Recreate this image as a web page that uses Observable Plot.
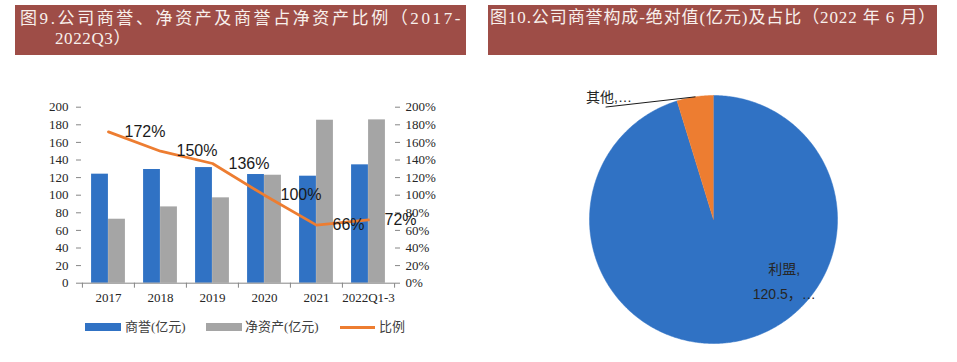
<!DOCTYPE html>
<html><head><meta charset="utf-8">
<script src="https://cdn.jsdelivr.net/npm/d3@7"></script>
<script src="https://cdn.jsdelivr.net/npm/@observablehq/plot@0.6"></script>
<style>
body{margin:0;width:957px;height:362px;position:relative;background:#fff;overflow:hidden}
.hdr{position:absolute;background:#9E4D47;color:#f8f0ec;font-size:17px;font-family:"Liberation Serif","Noto Sans CJK SC",serif;line-height:20px;white-space:nowrap;box-sizing:border-box}
.abs{position:absolute}
.lg{position:absolute;font:13px "Liberation Serif","Noto Sans CJK SC",serif;color:#404040;line-height:16px;white-space:nowrap}
.sw{position:absolute}
</style></head><body>
<div class="hdr" style="left:15px;top:5px;width:451px;height:50px;padding:4px 0 0 5px;letter-spacing:2.6px">图9.公司商誉、净资产及商誉占净资产比例（2017-<br><span style="padding-left:35px;letter-spacing:0.6px">2022Q3）</span></div>
<div class="hdr" style="left:488px;top:5px;width:449px;height:50px;padding:3px 0 0 2px;letter-spacing:0.9px">图10.公司商誉构成-绝对值(亿元)及占比（2022 年 6 月）</div>
<div id="left" class="abs" style="left:0;top:80px"></div>
<div id="pie" class="abs" style="left:568.5px;top:74.5px"></div>
<div id="legend"></div>
<script>
// ---- data ----
const years = ["2017", "2018", "2019", "2020", "2021", "2022Q1-3"];
const goodwill = [123.9, 129.2, 131.4, 123.5, 121.6, 134.5];
const netAssets = [72.7, 86.7, 97.0, 122.7, 185.2, 185.6];
const ratio = [172, 150, 136, 100, 66, 72];
const yTicks = [0, 20, 40, 60, 80, 100, 120, 140, 160, 180, 200];
const seriesNames = ["商誉(亿元)", "净资产(亿元)", "比例"];
const pieNames = ["利盟", "其他"];
const pieValues = [120.5, 6.0];

// ---- styles ----
const BLUE = "#3072C4", GRAY = "#A5A5A5", ORANGE = "#ED7D31", AXIS = "#868686", TXT = "#262626";

// ---- left chart ----
const W = 480, H = 230, mL = 81, mR = 86;
const bw = (W - mL - mR) / years.length;
const barW = 17;
const rows = years.map((c, i) => ({c, g: goodwill[i], n: netAssets[i], r: ratio[i]}));
const left = Plot.plot({
  width: W, height: H, marginLeft: mL, marginRight: mR, marginTop: 26.7, marginBottom: 27.3,
  style: {fontFamily: '"Liberation Serif", serif', fontSize: "13px", color: TXT, background: "transparent", overflow: "visible"},
  x: {domain: years, padding: 0, label: null, axis: null},
  y: {domain: [0, 200], label: null, axis: null},
  marks: [
    Plot.barY(rows, {x: "c", y: "g", fill: BLUE, insetLeft: bw / 2 - barW, insetRight: bw / 2}),
    Plot.barY(rows, {x: "c", y: "n", fill: GRAY, insetLeft: bw / 2, insetRight: bw / 2 - barW}),
    Plot.ruleY([0], {stroke: AXIS}),
    Plot.axisX(years, {tickSize: 5, tickFormat: () => "", dx: -bw / 2, stroke: AXIS}),
    Plot.axisX(years.slice(-1), {tickSize: 5, tickFormat: () => "", dx: bw / 2, stroke: AXIS}),
    Plot.axisX(years, {tickSize: 0, tickPadding: 10, fill: TXT}),
    Plot.axisY(yTicks, {anchor: "left", tickSize: 5, tickPadding: 8, stroke: AXIS, fill: TXT, line: true}),
    Plot.axisY(yTicks, {anchor: "right", tickSize: 5, tickPadding: 6, stroke: AXIS, fill: TXT, line: true, tickFormat: d => d + "%"}),
    Plot.line(rows, {x: "c", y: "r", stroke: ORANGE, strokeWidth: 2.75}),
    Plot.text(rows, {x: "c", y: "r", text: d => d.r + "%", dx: 16, textAnchor: "start", fontSize: 16,
      fontFamily: '"Liberation Sans", Arial, sans-serif', fill: "#1a1a1a"})
  ]
});
document.getElementById("left").appendChild(left);

// ---- legend ----
const lg = document.getElementById("legend");
const lgItems = [
  {name: seriesNames[0], color: BLUE, sx: 85, sw: 36, sh: 8, tx: 125},
  {name: seriesNames[1], color: GRAY, sx: 206, sw: 36, sh: 8, tx: 245},
  {name: seriesNames[2], color: ORANGE, sx: 340, sw: 35, sh: 3, tx: 379}
];
lgItems.forEach(it => {
  const s = document.createElement("div");
  s.className = "sw";
  s.style.cssText = `left:${it.sx}px;top:${327 - it.sh / 2}px;width:${it.sw}px;height:${it.sh}px;background:${it.color}`;
  lg.appendChild(s);
  const t = document.createElement("div");
  t.className = "lg";
  t.style.cssText = `left:${it.tx}px;top:319px`;
  t.textContent = it.name;
  lg.appendChild(t);
});

// ---- pie ----
const arcs = d3.pie().sort(null)(pieValues);
const piePts = [];
arcs.forEach((a, i) => {
  piePts.push({name: pieNames[i], x: 0, y: 0});
  const n = Math.max(2, Math.ceil((a.endAngle - a.startAngle) / 0.01));
  for (let k = 0; k <= n; k++) {
    const t = a.startAngle + (a.endAngle - a.startAngle) * k / n;
    piePts.push({name: pieNames[i], x: Math.sin(t), y: Math.cos(t)});
  }
});
const other = arcs[1];
const mid = (other.startAngle + other.endAngle) / 2;
const leader = [{x: Math.sin(mid), y: Math.cos(mid)}, {x: -0.867, y: 0.907}];
const pie = Plot.plot({
  width: 288, height: 278, marginLeft: 20, marginRight: 20, marginTop: 20, marginBottom: 10,
  style: {fontFamily: '"Liberation Sans", "Noto Sans CJK SC", sans-serif', fontSize: "14px", background: "transparent", overflow: "visible"},
  x: {domain: [-1, 1], axis: null},
  y: {domain: [-1, 1], axis: null},
  color: {domain: pieNames, range: [BLUE, ORANGE]},
  marks: [
    Plot.line(piePts, {x: "x", y: "y", z: "name", fill: "name", stroke: "name", strokeWidth: 0.5}),
    Plot.line(leader, {x: "x", y: "y", stroke: "#1a1a1a", strokeWidth: 1}),
    Plot.text([{t: pieNames[1] + ",…"}], {x: () => -1.028, y: () => 0.98, text: "t", textAnchor: "start", fill: TXT, fontSize: 14}),
    Plot.text([{t: pieNames[0] + ",\n" + pieValues[0].toFixed(1) + "，…"}], {x: () => 0.571, y: () => -0.476, text: "t", lineHeight: 1.79, fill: TXT, fontSize: 14})
  ]
});
document.getElementById("pie").appendChild(pie);
</script>
</body></html>
